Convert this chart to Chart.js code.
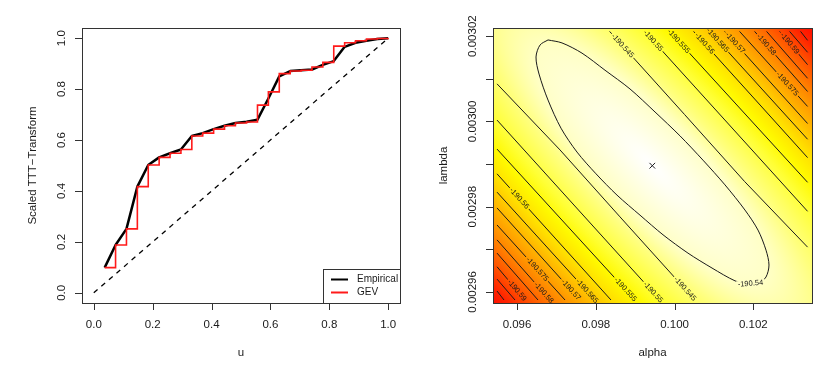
<!DOCTYPE html>
<html>
<head>
<meta charset="utf-8">
<script src="https://cdn.jsdelivr.net/npm/chart.js@4.4.1/dist/chart.umd.min.js"></script>
<style>
  html, body { margin: 0; padding: 0; background: #fff; }
  #wrap { position: relative; width: 839px; height: 376px; }
  canvas { position: absolute; top: 0; }
  #ttt { left: 0; }
  #contour { left: 420px; }
</style>
</head>
<body>
<div id="wrap">
  <canvas id="ttt" width="420" height="376"></canvas>
  <canvas id="contour" width="419" height="376"></canvas>
</div>
<script>
// ---- left panel: scaled TTT transform ----
const u = [0.037, 0.074, 0.111, 0.148, 0.185, 0.222, 0.259, 0.296, 0.333, 0.370, 0.407, 0.444, 0.481, 0.519,
           0.556, 0.593, 0.630, 0.667, 0.704, 0.741, 0.778, 0.815, 0.852, 0.889, 0.926, 0.963, 1.000];
const empirical = [0.099, 0.188, 0.251, 0.417, 0.502, 0.532, 0.548, 0.563, 0.616, 0.627, 0.643, 0.656, 0.667, 0.672,
                   0.680, 0.763, 0.850, 0.871, 0.874, 0.877, 0.895, 0.910, 0.966, 0.982, 0.990, 0.997, 1.000];
const gev = [0.099, 0.188, 0.251, 0.417, 0.502, 0.532, 0.548, 0.563, 0.616, 0.627, 0.643, 0.656, 0.667, 0.671,
             0.737, 0.789, 0.861, 0.871, 0.874, 0.887, 0.905, 0.969, 0.982, 0.990, 0.997, 0.999, 1.000];
const diagU = [0, 1];
const diagV = [0, 1];
const uTicks = [0, 0.2, 0.4, 0.6, 0.8, 1.0];
const uTickLabels = ['0.0', '0.2', '0.4', '0.6', '0.8', '1.0'];
const vTicks = [0, 0.2, 0.4, 0.6, 0.8, 1.0];
const vTickLabels = ['0.0', '0.2', '0.4', '0.6', '0.8', '1.0'];

// ---- right panel: log-likelihood contours ----
const alphaHat = 0.099435;
const lambdaHat = 0.0029896;
const surfaceMax = -190.536;
const surfaceMin = -190.607;
const contourLevel = [-190.54,
  -190.545, -190.545, -190.55, -190.55, -190.555, -190.555, -190.56, -190.56,
  -190.565, -190.565, -190.57, -190.57, -190.575, -190.575, -190.58, -190.58,
  -190.585, -190.585, -190.59, -190.59, -190.595, -190.595, -190.6, -190.6];
const contourAlpha = [
  [0.096787, 0.097142, 0.097650, 0.098234, 0.098869, 0.099504, 0.100138, 0.100722, 0.101281, 0.101788, 0.102119,
   0.102322, 0.102398, 0.102322, 0.102144, 0.101865, 0.101535, 0.100951, 0.100341, 0.099707, 0.099123, 0.098539,
   0.098006, 0.097523, 0.097117, 0.096787, 0.096559, 0.096482, 0.096584, 0.096787],
  [0.095492, 0.097092, 0.098615, 0.100519], [0.098351, 0.100255, 0.101778, 0.103378],
  [0.095492, 0.099630], [0.099240, 0.103378],
  [0.095492, 0.098996], [0.099874, 0.103378],
  [0.095492, 0.098386], [0.100484, 0.103378],
  [0.095492, 0.097980], [0.100890, 0.103378],
  [0.095492, 0.097599], [0.101271, 0.103378],
  [0.095492, 0.097219], [0.101651, 0.103378],
  [0.095492, 0.096838], [0.102032, 0.103378],
  [0.095492, 0.096533], [0.102337, 0.103378],
  [0.095492, 0.096203], [0.102667, 0.103378],
  [0.095492, 0.095949], [0.102921, 0.103378],
  [0.095492, 0.095670], [0.103200, 0.103378]
];
const contourLambda = [
  [0.0030191, 0.0030184, 0.0030160, 0.0030120, 0.0030076, 0.0030022, 0.0029966, 0.0029909, 0.0029851, 0.0029792,
   0.0029745, 0.0029698, 0.0029663, 0.0029635, 0.0029621, 0.0029619, 0.0029626, 0.0029656, 0.0029691, 0.0029734,
   0.0029780, 0.0029827, 0.0029877, 0.0029928, 0.0029984, 0.0030050, 0.0030111, 0.0030151, 0.0030179, 0.0030191],
  [0.0030088, 0.0029933, 0.0029776, 0.0029581], [0.0030211, 0.0030016, 0.0029859, 0.0029705],
  [0.0030003, 0.0029581], [0.0030211, 0.0029789],
  [0.0029935, 0.0029581], [0.0030211, 0.0029857],
  [0.0029877, 0.0029581], [0.0030211, 0.0029915],
  [0.0029834, 0.0029581], [0.0030211, 0.0029958],
  [0.0029797, 0.0029581], [0.0030211, 0.0029995],
  [0.0029757, 0.0029581], [0.0030211, 0.0030035],
  [0.0029722, 0.0029581], [0.0030211, 0.0030070],
  [0.0029691, 0.0029581], [0.0030211, 0.0030101],
  [0.0029659, 0.0029581], [0.0030211, 0.0030133],
  [0.0029630, 0.0029581], [0.0030211, 0.0030162],
  [0.0029602, 0.0029581], [0.0030211, 0.0030190]
];
const alphaTicks = [0.096, 0.098, 0.100, 0.102];
const alphaTickLabels = ['0.096', '0.098', '0.100', '0.102'];
const lambdaTicks = [0.00296, 0.00297, 0.00298, 0.00299, 0.00300, 0.00301, 0.00302];
const lambdaTickLabels = ['0.00296', '', '0.00298', '', '0.00300', '', '0.00302'];

const FONT = '"Liberation Sans", Arial, Helvetica, sans-serif';
const INK = '#1a1a1a';

function pts(xs, ys) {
  return xs.map((x, i) => ({ x: x, y: ys[i] }));
}

// R style box, outside ticks, rotated y labels
const rAxes = {
  id: 'rAxes',
  afterDraw(chart, args, opts) {
    const ctx = chart.ctx;
    const a = chart.chartArea;
    const xs = chart.scales.x, ys = chart.scales.y;
    ctx.save();
    ctx.strokeStyle = '#333';
    ctx.lineWidth = 1;
    ctx.strokeRect(Math.round(a.left) + 0.5, Math.round(a.top) + 0.5, Math.round(a.width), Math.round(a.height));
    ctx.beginPath();
    opts.xTicks.forEach(v => {
      const px = Math.round(xs.getPixelForValue(v)) + 0.5;
      ctx.moveTo(px, a.bottom);
      ctx.lineTo(px, a.bottom + 7);
    });
    opts.yTicks.forEach(v => {
      const py = Math.round(ys.getPixelForValue(v)) + 0.5;
      ctx.moveTo(a.left, py);
      ctx.lineTo(a.left - 7, py);
    });
    ctx.stroke();

    ctx.fillStyle = INK;
    ctx.font = '11.5px ' + FONT;
    ctx.textAlign = 'center';
    ctx.textBaseline = 'middle';
    opts.xTicks.forEach((v, i) => {
      ctx.fillText(opts.xLabels[i], xs.getPixelForValue(v), a.bottom + 22);
    });
    opts.yTicks.forEach((v, i) => {
      if (!opts.yLabels[i]) return;
      ctx.save();
      ctx.translate(a.left - 20.5, ys.getPixelForValue(v));
      ctx.rotate(-Math.PI / 2);
      ctx.fillText(opts.yLabels[i], 0, 0);
      ctx.restore();
    });
    ctx.fillText(opts.xTitle, (a.left + a.right) / 2, a.bottom + 50);
    ctx.save();
    ctx.translate(a.left - 49, (a.top + a.bottom) / 2);
    ctx.rotate(-Math.PI / 2);
    ctx.fillText(opts.yTitle, 0, 0);
    ctx.restore();
    ctx.restore();
  }
};

// legend box in the bottom right corner
const rLegend = {
  id: 'rLegend',
  afterDraw(chart) {
    const ctx = chart.ctx;
    const a = chart.chartArea;
    const w = 77, h = 34;
    const x0 = Math.round(a.right - w), y0 = Math.round(a.bottom - h);
    ctx.save();
    ctx.fillStyle = '#fff';
    ctx.fillRect(x0, y0, w, h);
    ctx.strokeStyle = '#333';
    ctx.lineWidth = 1;
    ctx.strokeRect(x0 + 0.5, y0 + 0.5, w, h);
    ctx.font = '10px ' + FONT;
    ctx.textAlign = 'left';
    ctx.textBaseline = 'middle';
    const items = [chart.data.datasets[1], chart.data.datasets[0]];
    items.forEach((ds, i) => {
      const y = y0 + 10.5 + i * 13;
      ctx.strokeStyle = ds.borderColor;
      ctx.lineWidth = 2;
      ctx.beginPath();
      ctx.moveTo(x0 + 8, y);
      ctx.lineTo(x0 + 25, y);
      ctx.stroke();
      ctx.fillStyle = INK;
      ctx.fillText(ds.label, x0 + 34, y);
    });
    ctx.restore();
  }
};

new Chart(document.getElementById('ttt'), {
  type: 'scatter',
  data: {
    datasets: [
      {
        label: 'GEV',
        data: pts(u, gev),
        showLine: true,
        stepped: 'before',
        borderColor: '#ff1a1a',
        borderWidth: 1.6,
        pointRadius: 0,
        order: 1
      },
      {
        label: 'Empirical',
        data: pts(u, empirical),
        showLine: true,
        borderColor: '#000',
        borderWidth: 2.5,
        borderJoinStyle: 'round',
        pointRadius: 0,
        order: 2
      },
      {
        label: 'diagonal',
        data: pts(diagU, diagV),
        showLine: true,
        borderColor: '#000',
        borderWidth: 1.3,
        borderDash: [5, 5],
        pointRadius: 0,
        order: 3
      }
    ]
  },
  options: {
    responsive: false,
    animation: false,
    layout: { padding: { left: 82, right: 20, top: 28, bottom: 73 } },
    scales: {
      x: { type: 'linear', display: false, min: -0.04, max: 1.04 },
      y: { type: 'linear', display: false, min: -0.04, max: 1.04 }
    },
    plugins: {
      legend: { display: false },
      tooltip: { enabled: false },
      rAxes: {
        xTicks: uTicks, xLabels: uTickLabels,
        yTicks: vTicks, yLabels: vTickLabels,
        xTitle: 'u', yTitle: 'Scaled TTT\u2212Transform'
      }
    }
  },
  plugins: [rAxes, rLegend]
});

// heat.colors style ramp: red -> yellow -> white
function heatColour(z) {
  let f = (z - surfaceMin) / (surfaceMax - surfaceMin);
  f = Math.max(0, Math.min(1, f));
  if (f < 0.75) return 'rgb(255,' + Math.round(255 * f / 0.75) + ',0)';
  return 'rgb(255,255,' + Math.round(255 * (f - 0.75) / 0.25) + ')';
}

// axes of the innermost contour, in pixels
function ellipseFrame(chart) {
  const p = chart.getDatasetMeta(0).data;
  const c = chart.getDatasetMeta(contourLevel.length).data[0];
  let best = 0, ang = 0;
  for (let i = 0; i < p.length; i++) {
    for (let j = i + 1; j < p.length; j++) {
      const d = Math.hypot(p[j].x - p[i].x, p[j].y - p[i].y);
      if (d > best) { best = d; ang = Math.atan2(p[j].y - p[i].y, p[j].x - p[i].x); }
    }
  }
  const cs = Math.cos(ang), sn = Math.sin(ang);
  let umax = 0, vmax = 0;
  p.forEach(q => {
    const dx = q.x - c.x, dy = q.y - c.y;
    umax = Math.max(umax, Math.abs(dx * cs + dy * sn));
    vmax = Math.max(vmax, Math.abs(-dx * sn + dy * cs));
  });
  const aspect = umax / vmax;
  const rad = (x, y) => {
    const dx = x - c.x, dy = y - c.y;
    const uu = (dx * cs + dy * sn) / aspect, vv = -dx * sn + dy * cs;
    return Math.hypot(uu, vv);
  };
  return { cx: c.x, cy: c.y, ang: ang, aspect: aspect, rad: rad };
}

function paintHeat(chart) {
  const ctx = chart.ctx;
  const a = chart.chartArea;
  const fr = ellipseFrame(chart);
  // mean elliptical radius of every level
  const acc = {};
  contourLevel.forEach((lev, i) => {
    const d = chart.getDatasetMeta(i).data;
    let s = 0;
    d.forEach(q => { s += fr.rad(q.x, q.y); });
    acc[lev] = acc[lev] || [];
    acc[lev].push(s / d.length);
  });
  const corners = [[a.left, a.top], [a.right, a.top], [a.left, a.bottom], [a.right, a.bottom]];
  const R = 1.04 * Math.max.apply(null, corners.map(k => fr.rad(k[0], k[1])));
  ctx.save();
  ctx.beginPath();
  ctx.rect(a.left, a.top, a.width, a.height);
  ctx.clip();
  ctx.translate(fr.cx, fr.cy);
  ctx.rotate(fr.ang);
  ctx.scale(fr.aspect, 1);
  const g = ctx.createRadialGradient(0, 0, 0, 0, 0, R);
  g.addColorStop(0, heatColour(surfaceMax));
  Object.keys(acc).forEach(k => {
    const r = acc[k].reduce((s, v) => s + v, 0) / acc[k].length;
    g.addColorStop(Math.min(0.999, r / R), heatColour(parseFloat(k)));
  });
  g.addColorStop(1, heatColour(surfaceMin));
  ctx.fillStyle = g;
  ctx.fillRect(-2000, -2000, 4000, 4000);
  ctx.restore();
}

const heatImage = {
  id: 'heatImage',
  beforeDatasetsDraw(chart) { paintHeat(chart); }
};

// where along each contour its label sits (fraction of length)
const labelSpot = [0.505,
  0.949, 0.066, 0.957, 0.052, 0.93, 0.065, 0.195, 0.095,
  0.918, 0.081, 0.89, 0.125, 0.59, 0.70, 0.88, 0.22,
  null, null, 0.71, 0.36, null, null, null, null];

const contourLabels = {
  id: 'contourLabels',
  afterDatasetsDraw(chart) {
    const ctx = chart.ctx;
    ctx.save();
    ctx.font = '7.5px ' + FONT;
    ctx.textAlign = 'center';
    ctx.textBaseline = 'middle';
    contourLevel.forEach((lev, i) => {
      const t = labelSpot[i];
      if (t == null) return;
      const p = chart.getDatasetMeta(i).data;
      const seg = [];
      let total = 0;
      for (let k = 1; k < p.length; k++) {
        const d = Math.hypot(p[k].x - p[k - 1].x, p[k].y - p[k - 1].y);
        seg.push(d);
        total += d;
      }
      let rest = t * total, k = 0;
      while (k < seg.length - 1 && rest > seg[k]) { rest -= seg[k]; k++; }
      const p0 = p[k], p1 = p[k + 1];
      const f = seg[k] ? rest / seg[k] : 0;
      const x = p0.x + (p1.x - p0.x) * f, y = p0.y + (p1.y - p0.y) * f;
      let ang = Math.atan2(p1.y - p0.y, p1.x - p0.x);
      if (ang > Math.PI / 2) ang -= Math.PI;
      if (ang < -Math.PI / 2) ang += Math.PI;
      const text = String(lev);
      const hw = (ctx.measureText(text).width + 3) / 2, hh = 3.5;
      const cs = Math.cos(ang), sn = Math.sin(ang);
      ctx.save();
      ctx.beginPath();
      [[-hw, -hh], [hw, -hh], [hw, hh], [-hw, hh]].forEach((q, j) => {
        const qx = x + q[0] * cs - q[1] * sn, qy = y + q[0] * sn + q[1] * cs;
        if (j === 0) ctx.moveTo(qx, qy); else ctx.lineTo(qx, qy);
      });
      ctx.closePath();
      ctx.clip();
      paintHeat(chart);
      ctx.restore();
      ctx.save();
      ctx.translate(x, y);
      ctx.rotate(ang);
      ctx.fillStyle = INK;
      ctx.fillText(text, 0, 0);
      ctx.restore();
    });
    ctx.restore();
  }
};

const contourSets = contourLevel.map((lev, i) => ({
  label: String(lev),
  data: pts(contourAlpha[i], contourLambda[i]),
  showLine: true,
  borderColor: '#1a1a1a',
  borderWidth: 1,
  pointRadius: 0,
  tension: i === 0 ? 0.3 : 0
}));
contourSets.push({
  label: 'MLE',
  data: [{ x: alphaHat, y: lambdaHat }],
  pointStyle: 'crossRot',
  pointRadius: 4,
  borderColor: '#222',
  borderWidth: 1,
  backgroundColor: '#222'
});

new Chart(document.getElementById('contour'), {
  type: 'scatter',
  data: { datasets: contourSets },
  options: {
    responsive: false,
    animation: false,
    layout: { padding: { left: 73, right: 27, top: 28, bottom: 73 } },
    scales: {
      x: { type: 'linear', display: false, min: 0.09539, max: 0.10349 },
      y: { type: 'linear', display: false, min: 0.0029574, max: 0.0030219 }
    },
    plugins: {
      legend: { display: false },
      tooltip: { enabled: false },
      rAxes: {
        xTicks: alphaTicks, xLabels: alphaTickLabels,
        yTicks: lambdaTicks, yLabels: lambdaTickLabels,
        xTitle: 'alpha', yTitle: 'lambda'
      }
    }
  },
  plugins: [heatImage, contourLabels, rAxes]
});
</script>
</body>
</html>
